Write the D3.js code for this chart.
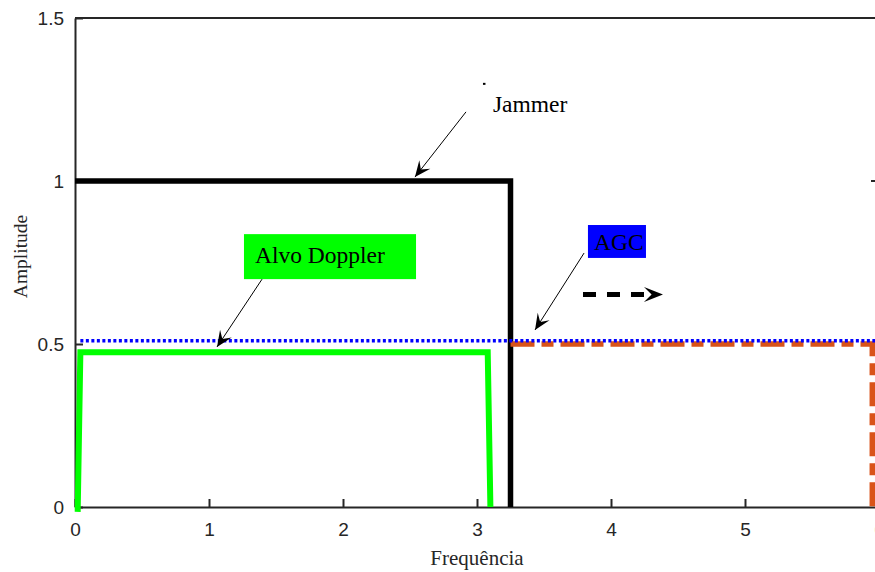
<!DOCTYPE html>
<html>
<head>
<meta charset="utf-8">
<script src="https://cdn.jsdelivr.net/npm/d3@7"></script>
<style>
  html, body { margin: 0; padding: 0; background: #fff; overflow: hidden; }
  .axis text { font-family: "Liberation Sans", Arial, sans-serif; font-size: 19px; fill: #262626; }
  .axis line, .axis path { stroke: #262626; stroke-width: 2; }
  .axis-label { font-family: "Liberation Serif", "Times New Roman", serif; font-size: 21px; fill: #262626; }
  .note { font-family: "Liberation Serif", "Times New Roman", serif; font-size: 23.5px; fill: #000; }
</style>
</head>
<body>
<div id="chart"></div>
<script>
// Series (frequency, amplitude)
const jammerX = [0, 3.25, 3.25];
const jammerY = [1, 1, 0];
const alvoX = [0.02, 0.04, 3.08, 3.1];
const alvoY = [-0.015, 0.475, 0.475, 0];
const agcX = [0.04, 6];
const agcY = [0.51, 0.51];
const shiftX = [3.25, 5.95, 5.95];
const shiftY = [0.5, 0.5, 0];

// Ticks
const xTicks = [0, 1, 2, 3, 4, 5, 6];
const yTicks = [0, 0.5, 1, 1.5];
const xTickLabels = ['0', '1', '2', '3', '4', '5', '6'];
const yTickLabels = ['0', '0.5', '1', '1.5'];

// Annotations (data coords)
const noteTexts = ['Jammer', 'Alvo Doppler', 'AGC'];
const noteArrows = [
  { from: [2.918, 1.212], to: [2.537, 1.012] },
  { from: [1.396, 0.699], to: [1.06, 0.491] },
  { from: [3.799, 0.779], to: [3.433, 0.543] }
];

const width = 875, height = 572;
const margin = { top: 18, left: 75 };
const innerW = 804, innerH = 489;

const svg = d3.select('#chart').append('svg')
  .attr('width', width)
  .attr('height', height);

const g = svg.append('g')
  .attr('transform', `translate(${margin.left},${margin.top})`);

const x = d3.scaleLinear().domain([0, 6]).range([0, innerW]);
const y = d3.scaleLinear().domain([0, 1.5]).range([innerH, 0]);

// Box (top + right)
g.append('path')
  .attr('d', `M0,0H${innerW}V${innerH}`)
  .attr('fill', 'none')
  .attr('stroke', '#262626')
  .attr('stroke-width', 2);

// right-side ticks
g.selectAll('line.rtick')
  .data(yTicks.slice(1, 3))
  .enter().append('line')
  .attr('x1', innerW - 8).attr('x2', innerW)
  .attr('y1', d => y(d)).attr('y2', d => y(d))
  .attr('stroke', '#262626').attr('stroke-width', 2);

g.append('g')
  .attr('class', 'axis')
  .call(d3.axisLeft(y).tickValues(yTicks).tickFormat((d, i) => yTickLabels[i])
    .tickSizeInner(-8).tickSizeOuter(0).tickPadding(11));

g.append('g')
  .attr('class', 'axis')
  .attr('transform', `translate(0,${innerH})`)
  .call(d3.axisBottom(x).tickValues(xTicks).tickFormat((d, i) => xTickLabels[i])
    .tickSizeInner(-8).tickSizeOuter(0).tickPadding(16));

// Axis labels
svg.append('text')
  .attr('class', 'axis-label')
  .attr('x', margin.left + innerW / 2)
  .attr('y', 565)
  .attr('text-anchor', 'middle')
  .text('Frequência');

svg.append('text')
  .attr('class', 'axis-label')
  .style('font-size', '19.5px')
  .attr('transform', `translate(27,${margin.top + innerH / 2 - 6}) rotate(-90)`)
  .attr('text-anchor', 'middle')
  .text('Amplitude');

const line = d3.line().x(d => x(d[0])).y(d => y(d[1]));
const pts = (xs, ys) => xs.map((v, i) => [v, ys[i]]);

g.append('path')
  .attr('d', line(pts(jammerX, jammerY)))
  .attr('fill', 'none').attr('stroke', '#000').attr('stroke-width', 5.5);

g.append('path')
  .attr('d', line(pts(alvoX, alvoY)))
  .attr('fill', 'none').attr('stroke', '#00ff00').attr('stroke-width', 6);

g.append('path')
  .attr('d', line(pts(shiftX, shiftY)))
  .attr('fill', 'none').attr('stroke', '#d95319').attr('stroke-width', 5.5)
  .attr('stroke-dasharray', '24,7,12,7');

g.append('path')
  .attr('d', line(pts(agcX, agcY)))
  .attr('fill', 'none').attr('stroke', '#0000ff').attr('stroke-width', 3.5)
  .attr('stroke-dasharray', '3,2.5');

// Arrow head helper (concave back)
function arrowHead(tip, from, len, half) {
  const dx = tip[0] - from[0], dy = tip[1] - from[1];
  const L = Math.hypot(dx, dy);
  const ux = dx / L, uy = dy / L, px = -uy, py = ux;
  const bx = tip[0] - ux * len, by = tip[1] - uy * len;
  const mx = tip[0] - ux * len * 0.6, my = tip[1] - uy * len * 0.6;
  return `M${tip[0]},${tip[1]}L${bx + px * half},${by + py * half}L${mx},${my}L${bx - px * half},${by - py * half}Z`;
}

const notes = svg.append('g').attr('transform', `translate(${margin.left},${margin.top})`);

noteArrows.forEach(a => {
  const f = [x(a.from[0]), y(a.from[1])];
  const t = [x(a.to[0]), y(a.to[1])];
  notes.append('line')
    .attr('x1', f[0]).attr('y1', f[1]).attr('x2', t[0]).attr('y2', t[1])
    .attr('stroke', '#000').attr('stroke-width', 1);
  notes.append('path').attr('d', arrowHead(t, f, 16, 7)).attr('fill', '#000');
});

// Jammer text + stray mark
notes.append('rect')
  .attr('x', x(3.052) - 1).attr('y', y(1.298) - 1)
  .attr('width', 2.5).attr('height', 2).attr('fill', '#000');
notes.append('text').attr('class', 'note')
  .attr('x', x(3.119)).attr('y', y(1.212))
  .text(noteTexts[0]);

// Alvo Doppler box
notes.append('rect')
  .attr('x', x(1.261)).attr('y', y(0.837))
  .attr('width', x(2.545) - x(1.261)).attr('height', y(0.699) - y(0.837))
  .attr('fill', '#00ff00');
notes.append('text').attr('class', 'note')
  .attr('x', x(1.343)).attr('y', y(0.748))
  .text(noteTexts[1]);

// AGC box
notes.append('rect')
  .attr('x', x(3.828)).attr('y', y(0.865))
  .attr('width', x(4.261) - x(3.828)).attr('height', y(0.764) - y(0.865))
  .attr('fill', '#0000ff');
notes.append('text').attr('class', 'note')
  .attr('x', x(3.873)).attr('y', y(0.788))
  .text(noteTexts[2]);

// Dashed shift arrow
const sFrom = [x(3.791), y(0.652)], sTip = [x(4.388), y(0.652)];
notes.append('line')
  .attr('x1', sFrom[0]).attr('y1', sFrom[1])
  .attr('x2', sTip[0] - 12).attr('y2', sTip[1])
  .attr('stroke', '#000').attr('stroke-width', 5)
  .attr('stroke-dasharray', '13,11');
notes.append('path').attr('d', arrowHead(sTip, sFrom, 19, 7.5)).attr('fill', '#000');
</script>
</body>
</html>
